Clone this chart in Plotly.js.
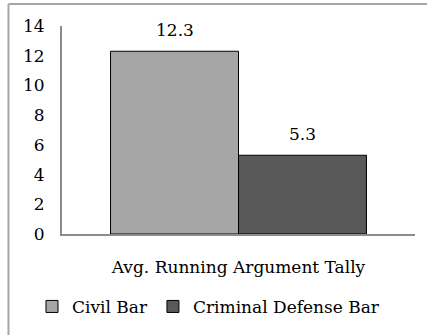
<!DOCTYPE html>
<html>
<head>
<meta charset="utf-8">
<script src="https://cdn.plot.ly/plotly-3.0.1.min.js"></script>
<style>html,body{margin:0;padding:0;background:#fff;}#chart{width:427px;height:335px;}</style>
</head>
<body>
<div id="chart"></div>
<script>
const categories = ["Avg. Running Argument Tally"];
const seriesNames = ["Civil Bar", "Criminal Defense Bar"];
const civilValues = [12.3];
const criminalValues = [5.3];
const seriesColors = ["#a6a6a6", "#595959"];
const yTickVals = [0, 2, 4, 6, 8, 10, 12, 14];

const FONT = "'DejaVu Serif', serif";
const FS = 17;
const allValues = [civilValues, criminalValues];

const traces = allValues.map((vals, i) => ({
  type: "bar",
  name: seriesNames[i],
  x: categories,
  y: vals,
  marker: { color: seriesColors[i], line: { color: "#000", width: 1 } },
  hoverinfo: "skip"
}));

const barShift = [-64, 64];
const annotations = [];
allValues.forEach((vals, i) => {
  vals.forEach((v, j) => {
    annotations.push({
      x: categories[j], y: v, xref: "x", yref: "y",
      text: String(v), showarrow: false,
      xanchor: "center", yanchor: "bottom",
      xshift: barShift[i], yshift: 9,
      font: { family: FONT, size: FS, color: "#000" }
    });
  });
});

const layout = {
  width: 427, height: 335,
  margin: { l: 62, r: 12, t: 26, b: 100, pad: 0 },
  paper_bgcolor: "#fff", plot_bgcolor: "#fff",
  font: { family: FONT, size: FS, color: "#000" },
  barmode: "group",
  bargap: 0.275, bargroupgap: 0,
  showlegend: true,
  legend: {
    orientation: "h", x: -0.085, xanchor: "left", y: -0.344, yanchor: "middle",
    font: { family: FONT, size: FS, color: "#000" },
    itemwidth: 30, traceorder: "normal"
  },
  xaxis: {
    type: "category",
    showline: true, linecolor: "#8c8c8c", linewidth: 2,
    ticks: "", showgrid: false, zeroline: false,
    ticklabelstandoff: 17,
    tickfont: { family: FONT, size: FS, color: "#000" }
  },
  yaxis: {
    range: [0, 14], tickvals: yTickVals,
    showline: true, linecolor: "#8c8c8c", linewidth: 2,
    ticks: "", showgrid: false, zeroline: false,
    ticklabelstandoff: 12,
    tickfont: { family: FONT, size: FS, color: "#000" }
  },
  annotations: annotations,
  shapes: [
    { type: "line", xref: "paper", yref: "paper", x0: -0.1516, x1: 1.2, y0: 1.1053, y1: 1.1053, line: { color: "#a6a6a6", width: 2 } },
    { type: "line", xref: "paper", yref: "paper", x0: -0.1516, x1: -0.1516, y0: 1.1053, y1: -0.6, line: { color: "#a6a6a6", width: 2 } }
  ]
};

Plotly.newPlot("chart", traces, layout, { staticPlot: true, displayModeBar: false });
</script>
</body>
</html>
